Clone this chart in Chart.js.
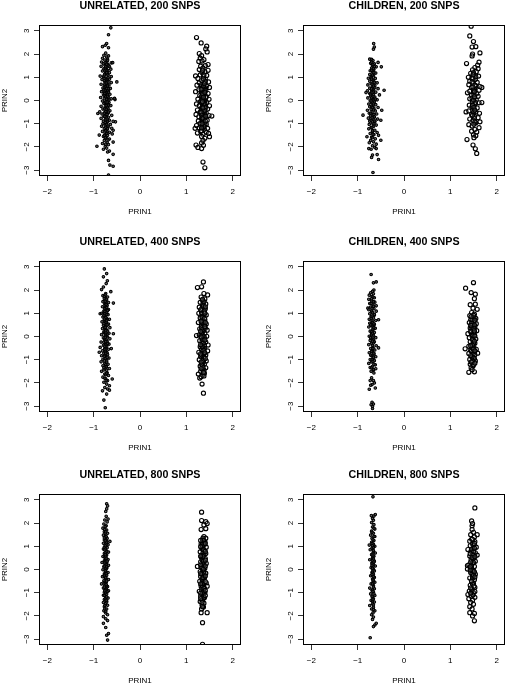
<!DOCTYPE html>
<html><head><meta charset="utf-8">
<script src="https://cdn.jsdelivr.net/npm/chart.js@4"></script>
<style>html,body{margin:0;padding:0;background:#fff;overflow:hidden;width:506px;height:685px}canvas{position:absolute;display:block}</style>
</head><body>
<script>
const panelTitles=["UNRELATED, 200 SNPS","CHILDREN, 200 SNPS","UNRELATED, 400 SNPS","CHILDREN, 400 SNPS","UNRELATED, 800 SNPS","CHILDREN, 800 SNPS"];
const xTicks=[-2,-1,0,1,2];
const yTicks=[-3,-2,-1,0,1,2,3];
const xLabel="PRIN1",yLabel="PRIN2";

const unrelated200Small=[[-.63,3.13],[-.68,2.83],[-.72,2.45],[-.75,2.38],[-.81,2.32],[-.68,2.27],[-.5,.8],[-.54,.04],[-.55,.09],[-.93,-1.97],[-.58,-1.79],[-.58,-2.32],[-.68,-2.58],[-.65,-2.78],[-.58,-2.83],[-.68,-3.21],[-.88,-1.49],[-.53,-.92],[-.58,-1.28],[-.91,-.56],
[-.74,2.04],[-.78,1.95],[-.68,1.92],[-.72,1.87],[-.81,1.82],[-.7,1.78],[-.62,1.62],[-.76,1.74],[-.83,1.66],[-.72,1.64],[-.59,1.63],[-.79,1.58],[-.69,1.55],[-.75,1.5],[-.84,1.47],[-.66,1.46],[-.72,1.42],[-.63,1.35],[-.78,1.36],[-.7,1.3],[-.81,1.27],[-.74,1.22],[-.66,1.2],[-.86,1.05],[-.76,1.14],[-.69,1.09],[-.62,1.03],[-.79,1.01],[-.73,.96],[-.66,.92],[-.82,.9],[-.7,.86],[-.76,.81],[-.62,.77],[-.72,.74],[-.84,.7],[-.67,.67],[-.77,.63],[-.71,.58],[-.8,.54],[-.64,.52],[-.74,.47],[-.68,.42],[-.83,.38],[-.76,.36],[-.71,.31],[-.65,.27],[-.79,.24],[-.73,.19],[-.85,.13],[-.68,.13],[-.77,.08],[-.71,.03],[-.62,.07],[-.81,-.02],[-.74,-.06],[-.67,-.09],[-.78,-.13],[-.7,-.18],[-.63,-.22],[-.84,-.25],[-.75,-.27],[-.69,-.33],[-.8,-.37],[-.72,-.41],[-.65,-.44],[-.87,-.49],[-.76,-.52],[-.69,-.55],[-.82,-.58],[-.73,-.63],[-.61,-.64],[-.78,-.69],[-.68,-.72],[-.84,-.77],[-.74,-.8],[-.66,-.85],[-.79,-.89],[-.58,-.9],[-.71,-.94],[-.8,-1],[-.64,-1.03],[-.75,-1.06],[-.83,-1.11],[-.69,-1.14],[-.61,-1.2],[-.77,-1.2],[-.72,-1.27],[-.81,-1.33],[-.66,-1.37],[-.75,-1.43],[-.6,-1.44],[-.7,-1.5],[-.79,-1.55],[-.73,-1.62],[-.66,-1.66],[-.77,-1.72],[-.71,-1.8],[-.81,-1.85],[-.68,-1.9],[-.75,-1.97],[-.72,-2.05],[-.79,-2.1],[-.66,-2.18],[-.7,-2.22]];
const unrelated200SmallCore=[[-.71,.92],[-.75,.55],[-.7,1.14],[-.73,.12],[-.69,-.02],[-.76,.7],[-.72,.33],[-.78,1.03],[-.7,-.28],[-.74,-.47],[-.68,.5],[-.73,1.31],[-.77,.23],[-.71,.66],[-.75,-.11],[-.69,.8],[-.73,-.72],[-.7,.41],[-.76,-.36],[-.72,1.2],[-.67,.02],[-.74,.88],[-.71,-.6],[-.78,.46],[-.7,-.88],[-.74,.16],[-.69,1.5],[-.75,1.37],[-.72,-1.02],[-.77,-.55],[-.7,.27],[-.73,.6],[-.68,-.2],[-.75,1.62],[-.71,-.8],[-.74,-1.15],[-.69,.98],[-.77,1.1],[-.72,.05],[-.7,1.72],[-.75,-.95],[-.73,.75],[-.68,-.5],[-.71,-1.35],[-.76,.3],[-.72,-.15],[-.74,1.45],[-.7,.18],[-.73,-.38],[-.77,.86],[-.69,-1.1],[-.72,1.56],[-.75,.45],[-.71,-.07],[-.74,-1.3],[-.7,.62],[-.76,-.68],[-.72,.52],[-.68,.35],[-.73,-.22],[-.7,-1.22],[-.75,-1.6],[-.72,-1.42],[-.77,-1.5],[-.69,-1.7],[-.74,-1.88]];
const unrelated200Large=[[1.22,2.71],[1.32,2.48],[1.44,2.34],[1.42,2.22],[1.45,2.09],[1.28,2.02],[1.36,-2.65],[1.4,-2.9],[1.21,-1.92],[1.25,-2.02],[1.33,-2.07],[1.55,-.67],[1.5,-1.56],[1.19,-1.2],
[1.33,1.93],[1.3,1.82],[1.38,1.76],[1.27,1.68],[1.34,1.7],[1.47,1.55],[1.41,1.5],[1.31,1.48],[1.36,1.4],[1.28,1.33],[1.47,1.3],[1.4,1.24],[1.34,1.2],[1.2,1.06],[1.3,1.1],[1.44,1.08],[1.37,1.02],[1.25,.95],[1.41,.92],[1.33,.86],[1.48,.8],[1.28,.76],[1.38,.72],[1.23,.66],[1.44,.62],[1.33,.6],[1.5,.56],[1.37,.5],[1.27,.46],[1.42,.43],[1.2,.38],[1.33,.36],[1.47,.3],[1.38,.26],[1.29,.21],[1.43,.17],[1.35,.12],[1.25,.06],[1.49,.05],[1.39,.01],[1.31,-.04],[1.44,-.09],[1.36,-.14],[1.22,-.15],[1.28,-.22],[1.5,-.23],[1.4,-.28],[1.33,-.33],[1.46,-.37],[1.24,-.41],[1.37,-.44],[1.3,-.5],[1.43,-.55],[1.21,-.6],[1.35,-.6],[1.49,-.65],[1.27,-.7],[1.4,-.75],[1.33,-.79],[1.45,-.85],[1.26,-.88],[1.37,-.92],[1.3,-.98],[1.43,-1.03],[1.22,-1.08],[1.35,-1.1],[1.28,-1.18],[1.46,-1.2],[1.39,-1.24],[1.31,-1.33],[1.24,-1.4],[1.43,-1.37],[1.36,-1.45],[1.48,-1.42],[1.33,-1.55],[1.4,-1.63],[1.36,-1.72],[1.33,-1.83],[1.37,-1.93]];
const unrelated200LargeCore=[[1.36,-.2],[1.39,-.55],[1.33,.18],[1.37,-.7],[1.35,.4],[1.4,-.02],[1.34,-.4],[1.38,.07],[1.36,-.95],[1.33,-.62],[1.41,-.32],[1.37,.3],[1.35,-.85],[1.39,.56],[1.34,.02],[1.37,-1.05],[1.33,.68],[1.4,-.12],[1.36,.23],[1.38,-.48],[1.35,-.27],[1.39,.44],[1.34,-.74],[1.41,.82],[1.36,-1.17],[1.38,1.1],[1.33,-1.3],[1.4,-1.03],[1.37,.93],[1.35,1.3],[1.38,-.15],[1.32,-.5],[1.42,.12],[1.36,-.78],[1.34,.5],[1.4,-.42],[1.37,.62],[1.33,-.1],[1.41,-.88],[1.35,.28],[1.38,-1.12],[1.32,.48],[1.39,.72],[1.36,-.32],[1.34,-1],[1.42,-.68],[1.37,.14],[1.33,-1.18],[1.4,.34],[1.35,-.05]];

const children200Small=[[-.655,2.45],[-.64,2.3],[-.66,2.21],[-.67,-3.1],[-.885,-.63],[-.43,.44],[-.49,1.45],[-.56,1.64],[-.55,-2.54],[-.7,-2.45],[-.58,-2.33],[-.76,-2.07],[-.5,-1.71],[-.8,-1.56],[-.68,-2.35],[-.82,.34],[-.48,-.42],[-.5,-.85],
[-.74,1.78],[-.7,1.77],[-.67,1.72],[-.64,1.58],[-.72,1.6],[-.68,1.5],[-.6,1.45],[-.7,1.4],[-.65,1.33],[-.73,1.28],[-.68,1.22],[-.61,1.18],[-.74,1.12],[-.66,1.07],[-.71,1.02],[-.77,.96],[-.62,.95],[-.69,.9],[-.74,.83],[-.65,.8],[-.58,.76],[-.71,.72],[-.78,.67],[-.63,.64],[-.68,.59],[-.74,.53],[-.56,.51],[-.66,.48],[-.79,.42],[-.7,.39],[-.61,.36],[-.74,.3],[-.66,.26],[-.53,.24],[-.72,.19],[-.63,.15],[-.78,.11],[-.68,.07],[-.58,.03],[-.73,-.01],[-.64,-.05],[-.7,-.1],[-.76,-.15],[-.61,-.18],[-.67,-.22],[-.74,-.27],[-.56,-.3],[-.65,-.33],[-.71,-.38],[-.79,-.42],[-.62,-.45],[-.69,-.5],[-.75,-.55],[-.59,-.58],[-.67,-.62],[-.72,-.67],[-.64,-.72],[-.77,-.76],[-.57,-.8],[-.69,-.83],[-.74,-.89],[-.63,-.92],[-.68,-.98],[-.75,-1.03],[-.6,-1.06],[-.66,-1.12],[-.71,-1.17],[-.76,-1.22],[-.63,-1.28],[-.68,-1.33],[-.58,-1.38],[-.73,-1.42],[-.65,-1.47],[-.55,-1.5],[-.7,-1.58],[-.62,-1.65],[-.72,-1.72],[-.66,-1.78],[-.75,-1.82],[-.6,-1.88],[-.68,-1.95],[-.63,-2.02],[-.71,-2.1],[-.6,-2.07]];
const children200SmallCore=[[-.67,.45],[-.7,1.65],[-.65,.02],[-.69,.7],[-.66,-.4],[-.72,.28],[-.68,1.1],[-.64,-.7],[-.7,-.25],[-.67,.88],[-.66,.36],[-.71,-.85],[-.63,.55],[-.68,-.08],[-.7,1.3],[-.65,-1],[-.67,.18],[-.72,-.55],[-.64,1.45],[-.69,-1.15],[-.66,.62],[-.68,-.3],[-.7,.12],[-.63,-.88],[-.67,1.55],[-.71,.98],[-.65,-.6],[-.69,.33],[-.66,-.15],[-.68,-1.3],[-.7,.5],[-.64,.78],[-.67,-1.45],[-.71,-.02],[-.65,1.2],[-.69,-.75],[-.66,1.38],[-.68,-1.6],[-.62,.06],[-.7,.92]];
const children200Large=[[1.45,3.2],[1.42,2.78],[1.5,2.54],[1.55,2.32],[1.47,2.3],[1.64,2.05],[1.48,2],[1.47,1.92],[1.35,1.59],[1.62,1.65],[1.36,-1.68],[1.49,-1.92],[1.54,-2.08],[1.57,-2.28],[1.34,-.49],[1.68,-.09],[1.68,.56],[1.37,.33],
[1.59,1.52],[1.53,1.42],[1.6,1.37],[1.48,1.32],[1.56,1.24],[1.44,1.17],[1.51,1.12],[1.61,1.05],[1.39,1],[1.47,.98],[1.54,.9],[1.42,.83],[1.58,.78],[1.49,.73],[1.4,.68],[1.55,.62],[1.64,.6],[1.46,.56],[1.52,.49],[1.62,.44],[1.42,.4],[1.5,.35],[1.57,.29],[1.46,.23],[1.6,.18],[1.52,.12],[1.42,.07],[1.56,.02],[1.48,-.04],[1.62,-.1],[1.53,-.15],[1.41,-.2],[1.47,-.27],[1.58,-.32],[1.51,-.38],[1.4,-.45],[1.55,-.5],[1.63,-.55],[1.46,-.6],[1.52,-.68],[1.6,-.74],[1.42,-.8],[1.49,-.86],[1.64,-.92],[1.55,-.96],[1.4,-1.04],[1.47,-1.1],[1.62,-1.17],[1.53,-1.25],[1.46,-1.32],[1.57,-1.36],[1.5,-1.48],[1.55,-1.52],[1.51,-1.6]];
const children200LargeCore=[[1.51,.25],[1.48,-.2],[1.53,.66],[1.5,-.52],[1.49,.95],[1.54,-.08],[1.5,.45],[1.52,-.75],[1.47,.1],[1.55,1.02],[1.51,-.3],[1.49,.58],[1.53,-.92],[1.5,1.2],[1.52,.38],[1.48,-.64],[1.5,.02],[1.53,-.42],[1.47,.8],[1.51,-1.02],[1.49,1.1],[1.52,.16]];

const unrelated400Small=[[-.77,2.91],[-.72,2.71],[-.79,2.57],[-.705,2.4],[-.73,2.28],[-.79,2.13],[-.83,2.02],[-.63,1.93],[-.575,1.44],[-.575,.12],[-.81,-2.34],[-.72,-2.48],[-.78,-2.74],[-.75,-3.07],[-.6,-1.83],[-.66,-2.31],[-.88,-.68],[-.86,.98],[-.62,-.52],
[-.74,1.85],[-.8,1.76],[-.7,1.7],[-.77,1.64],[-.72,1.57],[-.8,1.5],[-.68,1.46],[-.76,1.4],[-.71,1.33],[-.81,1.28],[-.74,1.22],[-.68,1.16],[-.78,1.1],[-.72,1.05],[-.83,1],[-.69,.94],[-.76,.9],[-.8,.84],[-.72,.78],[-.66,.74],[-.77,.7],[-.82,.63],[-.73,.58],[-.68,.53],[-.79,.48],[-.74,.42],[-.65,.38],[-.81,.34],[-.75,.28],[-.7,.24],[-.78,.18],[-.67,.14],[-.83,.08],[-.74,.04],[-.7,-.02],[-.79,-.06],[-.65,-.1],[-.76,-.15],[-.71,-.2],[-.84,-.24],[-.74,-.29],[-.67,-.33],[-.79,-.38],[-.72,-.43],[-.86,-.47],[-.76,-.52],[-.68,-.55],[-.81,-.62],[-.73,-.66],[-.78,-.72],[-.7,-.78],[-.83,-.83],[-.75,-.88],[-.67,-.93],[-.8,-.98],[-.72,-1.04],[-.84,-1.09],[-.76,-1.15],[-.69,-1.2],[-.8,-1.26],[-.73,-1.32],[-.66,-1.38],[-.78,-1.44],[-.83,-1.5],[-.71,-1.56],[-.76,-1.62],[-.68,-1.68],[-.8,-1.75],[-.74,-1.82],[-.7,-1.9],[-.78,-1.97],[-.72,-2.05],[-.66,-2.12],[-.76,-2.2],[-.7,-2.26]];
const unrelated400SmallCore=[[-.75,.65],[-.73,1.6],[-.77,.2],[-.74,-.5],[-.72,.95],[-.76,1.2],[-.71,.1],[-.75,-.8],[-.73,.45],[-.78,-.25],[-.74,1.45],[-.71,.72],[-.76,-.1],[-.73,.3],[-.77,1.02],[-.75,-.62],[-.72,-1.1],[-.74,.82],[-.78,.55],[-.73,-.35],[-.75,1.33],[-.71,-.7],[-.76,.38],[-.74,-1.22],[-.72,.02],[-.77,1.72],[-.75,-.95],[-.73,.6],[-.7,1.12],[-.76,-.42],[-.74,.16],[-.72,-1.45],[-.78,.9],[-.75,1.52],[-.73,-.15],[-.77,-1.05],[-.71,.5],[-.75,.05],[-.74,-1.65],[-.76,-.55],[-.72,1.25],[-.74,-.22],[-.77,.75],[-.73,-1.3],[-.75,1.8],[-.71,-.9],[-.76,-1.8],[-.74,.25],[-.72,-1.58],[-.77,-.85],[-.75,.4],[-.73,1.38],[-.7,-.3],[-.76,.98],[-.74,-.72],[-.72,.68],[-.78,-1.35],[-.75,-.03],[-.73,-1.9],[-.76,1.08]];
const unrelated400Large=[[1.37,2.35],[1.33,2.14],[1.24,2.11],[1.38,1.85],[1.46,1.79],[1.37,-2.44],[1.22,.04],[1.26,-1.62],[1.34,-2.05],[1.29,-1.79],
[1.32,1.7],[1.4,1.62],[1.35,1.55],[1.3,1.47],[1.42,1.4],[1.36,1.33],[1.28,1.26],[1.41,1.2],[1.33,1.12],[1.38,1.05],[1.27,1],[1.43,.93],[1.34,.87],[1.3,.8],[1.4,.73],[1.36,.67],[1.26,.6],[1.43,.54],[1.33,.47],[1.38,.4],[1.29,.33],[1.45,.27],[1.35,.2],[1.4,.13],[1.28,.07],[1.44,.01],[1.33,-.05],[1.37,-.12],[1.29,-.18],[1.42,-.24],[1.35,-.3],[1.47,-.37],[1.3,-.44],[1.39,-.5],[1.33,-.57],[1.46,-.62],[1.27,-.68],[1.37,-.75],[1.42,-.8],[1.31,-.87],[1.37,-.94],[1.28,-1],[1.43,-1.05],[1.34,-1.13],[1.39,-1.2],[1.3,-1.28],[1.42,-1.35],[1.35,-1.42],[1.31,-1.5],[1.39,-1.58],[1.35,-1.66],[1.32,-1.73],[1.38,-1.7]];
const unrelated400LargeCore=[[1.36,.55],[1.34,-.2],[1.38,.9],[1.35,-.65],[1.37,.25],[1.33,1.02],[1.39,-.38],[1.36,1.4],[1.34,.1],[1.38,-.88],[1.35,.72],[1.37,-1.08],[1.33,.38],[1.39,-.05],[1.36,-.5],[1.34,1.22],[1.38,.62],[1.35,-1.25],[1.37,-.28],[1.33,-.8],[1.39,1.1],[1.36,.02],[1.34,.82],[1.38,-1.45],[1.35,.3],[1.37,-.72],[1.33,.15],[1.39,.48],[1.36,-1.02],[1.34,-.42],[1.38,1.5],[1.35,-.12],[1.37,1.3],[1.33,-1.2],[1.39,.78],[1.36,-1.35],[1.34,.6],[1.38,-.6],[1.35,1.6],[1.37,-1.55],[1.41,.35],[1.31,-.35],[1.4,1],[1.32,.66],[1.41,-.95],[1.31,.22],[1.4,-.15],[1.32,-1.1],[1.41,.6],[1.31,1.15],[1.4,-.7],[1.32,-.02],[1.41,1.28],[1.31,-.75],[1.4,.42],[1.32,-1.38]];

const children400Small=[[-.71,2.67],[-.6,2.35],[-.66,2.31],[-.75,-2.27],[-.62,-2.22],[-.69,-2.83],[-.66,-2.91],[-.71,-2.94],[-.68,-3.02],[-.68,-3.1],[-.55,.72],[-.55,-.49],[-.73,-1.9],[-.66,-1.9],[-.7,-1.78],[-.64,-2],[-.69,-2.07],[-.72,-2.1],[-.78,1.22],
[-.65,2],[-.68,1.95],[-.72,1.88],[-.66,1.84],[-.75,1.78],[-.69,1.72],[-.64,1.67],[-.76,1.6],[-.7,1.54],[-.63,1.48],[-.74,1.42],[-.67,1.36],[-.6,1.32],[-.72,1.27],[-.65,1.2],[-.76,1.15],[-.6,1.09],[-.69,1.05],[-.74,.98],[-.64,.92],[-.71,.86],[-.66,.8],[-.75,.74],[-.61,.69],[-.69,.63],[-.74,.57],[-.64,.52],[-.7,.46],[-.76,.41],[-.62,.35],[-.67,.29],[-.73,.23],[-.64,.17],[-.7,.11],[-.66,.05],[-.75,.01],[-.61,-.05],[-.69,-.11],[-.73,-.17],[-.64,-.23],[-.7,-.29],[-.76,-.35],[-.6,-.4],[-.67,-.46],[-.72,-.52],[-.63,-.58],[-.69,-.64],[-.75,-.7],[-.65,-.76],[-.71,-.82],[-.61,-.87],[-.67,-.93],[-.73,-.99],[-.64,-1.04],[-.7,-1.1],[-.76,-1.16],[-.62,-1.22],[-.68,-1.28],[-.73,-1.34],[-.61,-1.39],[-.66,-1.45],[-.71,-1.5],[-.65,-1.57]];
const children400SmallCore=[[-.68,.6],[-.66,-.15],[-.7,1.1],[-.67,.32],[-.65,-.72],[-.71,.78],[-.68,-.38],[-.66,1.5],[-.7,.08],[-.64,.95],[-.69,-1],[-.67,.44],[-.72,-.05],[-.66,1.3],[-.68,-.6],[-.7,.2],[-.65,-1.2],[-.67,1.7],[-.69,.7],[-.72,-.8],[-.66,-.28],[-.68,1.02],[-.7,-1.35],[-.65,.38],[-.67,-.52],[-.71,1.42],[-.68,.14],[-.66,-.9],[-.69,.88],[-.7,1.62],[-.67,-1.08],[-.65,.55],[-.68,-.2],[-.72,.5],[-.66,-1.42],[-.69,1.2],[-.67,-.02],[-.7,-.65]];
const children400Large=[[1.5,2.32],[1.33,2.08],[1.45,1.89],[1.54,1.82],[1.52,1.63],[1.43,1.37],[1.54,1.39],[1.58,1.17],[1.4,-1.54],[1.52,-1.52],[1.32,-.53],[1.59,-.72],
[1.49,1.22],[1.46,1.03],[1.52,.96],[1.42,.9],[1.49,.84],[1.55,.78],[1.44,.72],[1.51,.66],[1.41,.6],[1.56,.55],[1.47,.49],[1.53,.42],[1.43,.37],[1.49,.3],[1.57,.25],[1.45,.18],[1.38,.12],[1.52,.07],[1.47,.01],[1.41,-.05],[1.55,-.11],[1.49,-.17],[1.43,-.23],[1.53,-.29],[1.46,-.36],[1.4,-.42],[1.51,-.48],[1.56,-.55],[1.44,-.6],[1.49,-.67],[1.4,-.73],[1.53,-.79],[1.46,-.86],[1.5,-.93],[1.42,-.99],[1.54,-1.05],[1.47,-1.12],[1.43,-1.2],[1.49,-1.27],[1.45,-1.35],[1.47,-1.43]];
const children400LargeCore=[[1.48,.5],[1.5,-.3],[1.47,.1],[1.51,.82],[1.46,-.62],[1.49,.28],[1.52,-.95],[1.48,-.12],[1.5,.62],[1.47,-.48],[1.51,.16],[1.49,-.78],[1.46,.4],[1.5,.92],[1.48,-1.05],[1.52,-.2],[1.47,.72],[1.5,-1.22],[1.49,.04],[1.48,-.38],[1.51,.34],[1.47,-.88],[1.46,.56],[1.5,-.55],[1.44,.22],[1.53,.7],[1.44,-.4],[1.53,-.62],[1.45,.85],[1.52,.24],[1.44,-.82],[1.53,.02],[1.45,-1.1],[1.52,.5],[1.44,.48],[1.53,-1.15]];

const unrelated800Small=[[-.72,2.83],[-.7,2.74],[-.72,2.61],[-.74,2.5],[-.73,2.29],[-.65,1.21],[-.7,-3.04],[-.72,-2.83],[-.68,-2.76],[-.79,-2.32],[-.74,-2.5],[-.69,2.17],
[-.76,2.13],[-.71,2.05],[-.78,1.96],[-.73,1.88],[-.8,1.78],[-.72,1.7],[-.77,1.63],[-.7,1.56],[-.79,1.48],[-.74,1.41],[-.71,1.34],[-.77,1.27],[-.72,1.2],[-.79,1.13],[-.69,1.07],[-.75,1],[-.71,.94],[-.79,.88],[-.73,.81],[-.68,.75],[-.77,.69],[-.72,.62],[-.8,.56],[-.74,.49],[-.69,.43],[-.77,.37],[-.72,.3],[-.82,.3],[-.75,.23],[-.68,.18],[-.78,.12],[-.72,.05],[-.8,-.01],[-.74,-.07],[-.69,-.13],[-.77,-.19],[-.72,-.25],[-.81,-.31],[-.75,-.37],[-.68,-.43],[-.78,-.49],[-.73,-.55],[-.83,-.62],[-.76,-.68],[-.7,-.74],[-.79,-.8],[-.73,-.86],[-.68,-.92],[-.77,-.98],[-.72,-1.05],[-.79,-1.11],[-.74,-1.17],[-.69,-1.23],[-.77,-1.29],[-.72,-1.36],[-.79,-1.42],[-.74,-1.48],[-.7,-1.54],[-.77,-1.6],[-.72,-1.7],[-.78,-1.78],[-.74,-1.87],[-.7,-1.95],[-.79,-2.03],[-.74,-2.12],[-.7,-2.2]];
const unrelated800SmallCore=[[-.75,.4],[-.73,1.1],[-.76,-.22],[-.74,.68],[-.72,-.7],[-.77,.15],[-.75,1.55],[-.73,-.4],[-.75,.9],[-.74,-1],[-.76,.52],[-.72,.08],[-.74,1.3],[-.77,-.55],[-.73,.26],[-.75,-1.25],[-.72,.77],[-.76,1.72],[-.74,-.1],[-.73,-.82],[-.77,.96],[-.75,.33],[-.72,-1.4],[-.74,.6],[-.76,-.32],[-.73,1.42],[-.75,-.6],[-.74,.02],[-.77,-1.12],[-.72,1.18],[-.75,.72],[-.73,-.18],[-.76,-1.55],[-.74,.44],[-.71,-.95],[-.75,1.02],[-.73,.2],[-.77,-.76],[-.74,1.62],[-.72,-.5],[-.76,.84],[-.75,-.05],[-.73,-1.32],[-.74,.56],[-.77,-.28],[-.75,1.24],[-.72,.12],[-.76,-1.7],[-.74,-.88],[-.73,.48],[-.75,1.85],[-.76,.28],[-.72,-1.18],[-.74,-.35],[-.77,1.36],[-.73,-.65],[-.75,.64],[-.74,-1.8],[-.71,.36],[-.76,-.92]];
const unrelated800Large=[[1.33,2.47],[1.33,2.11],[1.42,2.06],[1.45,1.98],[1.42,1.76],[1.32,1.72],[1.35,-2.29],[1.35,-3.22],[1.45,-1.86],[1.32,-1.86],[1.24,.13],[1.38,1.92],
[1.38,1.42],[1.42,1.35],[1.35,1.28],[1.4,1.2],[1.32,1.1],[1.38,1.03],[1.43,.96],[1.34,.89],[1.39,.82],[1.3,.76],[1.42,.69],[1.36,.61],[1.32,.54],[1.41,.47],[1.36,.4],[1.31,.33],[1.43,.26],[1.37,.19],[1.32,.12],[1.4,.05],[1.35,-.02],[1.3,-.09],[1.42,-.16],[1.36,-.23],[1.31,-.3],[1.39,-.37],[1.35,-.44],[1.29,-.51],[1.43,-.58],[1.37,-.65],[1.32,-.72],[1.45,-.72],[1.39,-.8],[1.33,-.87],[1.28,-.94],[1.4,-1],[1.35,-1.07],[1.31,-1.15],[1.39,-1.22],[1.34,-1.3],[1.3,-1.38],[1.38,-1.45],[1.34,-1.53],[1.37,-1.62],[1.33,-1.7]];
const unrelated800LargeCore=[[1.36,.72],[1.37,-.1],[1.35,1.15],[1.38,.3],[1.36,-.55],[1.34,.95],[1.37,-.92],[1.35,.5],[1.38,-.3],[1.36,1.35],[1.34,.08],[1.37,-1.12],[1.35,-.7],[1.38,.62],[1.36,.22],[1.34,-.42],[1.37,.85],[1.35,-1.32],[1.38,-.15],[1.36,-1],[1.34,.42],[1.37,1.25],[1.35,-.6],[1.38,-.82],[1.36,.55],[1.34,-.2],[1.37,.02],[1.35,1.02],[1.38,-1.2],[1.36,-.35],[1.34,-1.42],[1.37,.36],[1.35,-1.6],[1.38,1.1],[1.41,.78],[1.31,.98],[1.41,-.28],[1.31,-.62],[1.41,.15],[1.31,-1.02],[1.41,-1.12],[1.31,.58],[1.41,1.12],[1.31,-.18],[1.41,-.52],[1.31,1.25],[1.41,.4],[1.31,-1.25],[1.41,-.9],[1.31,.2]];

const children800Small=[[-.67,3.13],[-.73,-2.94],[-.62,2.37],[-.705,2.32],[-.6,-2.32],[-.63,-2.39],[-.66,-2.46],[-.65,2.3],
[-.68,2.2],[-.66,2.12],[-.7,2.02],[-.65,1.93],[-.68,1.83],[-.63,1.74],[-.7,1.65],[-.66,1.56],[-.72,1.48],[-.63,1.42],[-.69,1.34],[-.65,1.25],[-.7,1.17],[-.66,1.09],[-.75,1.05],[-.63,1],[-.69,.92],[-.73,.85],[-.66,.78],[-.62,.71],[-.7,.64],[-.65,.57],[-.68,.5],[-.74,.42],[-.64,.36],[-.69,.29],[-.66,.22],[-.62,.15],[-.71,.08],[-.66,.01],[-.64,-.06],[-.69,-.13],[-.66,-.2],[-.72,-.27],[-.64,-.34],[-.68,-.41],[-.66,-.48],[-.63,-.55],[-.71,-.62],[-.66,-.69],[-.74,-.8],[-.64,-.83],[-.69,-.9],[-.66,-.97],[-.72,-1.05],[-.63,-1.12],[-.68,-1.19],[-.66,-1.26],[-.71,-1.33],[-.64,-1.4],[-.68,-1.47],[-.74,-1.55],[-.66,-1.63],[-.7,-1.7],[-.63,-1.78],[-.67,-1.87],[-.7,-1.95],[-.66,-2.05],[-.68,-2.15]];
const children800SmallCore=[[-.67,.55],[-.68,-.1],[-.66,.95],[-.67,-.55],[-.69,.25],[-.65,1.42],[-.68,-.88],[-.67,.7],[-.66,-.3],[-.69,1.12],[-.67,.12],[-.65,-1.05],[-.68,.4],[-.66,-.75],[-.69,1.6],[-.67,-.02],[-.68,-1.35],[-.66,.82],[-.67,-.45],[-.65,.32],[-.69,-1.15],[-.67,1.28],[-.68,.05],[-.66,-1.52],[-.67,.62],[-.69,-.22],[-.65,1.78],[-.68,-.62],[-.67,-1.28],[-.66,.45],[-.68,1.02],[-.67,-.95],[-.69,.18],[-.66,-1.72]];
const children800Large=[[1.53,2.65],[1.46,2.09],[1.47,1.88],[1.52,-1.89],[1.52,-2.21],[1.48,-2],[1.42,-1.86],[1.58,1.5],[1.37,.17],[1.48,1.98],
[1.47,1.72],[1.5,1.6],[1.44,1.5],[1.52,1.4],[1.46,1.3],[1.42,1.22],[1.53,1.2],[1.48,1.1],[1.43,1.02],[1.56,.96],[1.49,.9],[1.38,.86],[1.45,.8],[1.54,.72],[1.48,.65],[1.42,.58],[1.58,.62],[1.5,.5],[1.45,.42],[1.54,.35],[1.48,.27],[1.4,.2],[1.52,.13],[1.46,.05],[1.37,.02],[1.5,-.05],[1.44,-.13],[1.54,-.2],[1.48,-.28],[1.42,-.37],[1.52,-.44],[1.46,-.52],[1.5,-.6],[1.43,-.68],[1.53,-.77],[1.47,-.85],[1.41,-.93],[1.5,-1],[1.38,-1.08],[1.45,-1.15],[1.53,-1.2],[1.4,-1.26],[1.48,-1.32],[1.44,-1.42],[1.5,-1.5],[1.42,-1.6],[1.47,-1.7]];
const children800LargeCore=[[1.49,.45],[1.47,-.15],[1.5,.78],[1.48,-.62],[1.46,.18],[1.51,1.05],[1.48,-.38],[1.49,.62],[1.47,-.92],[1.5,.3],[1.48,-.06],[1.46,.88],[1.51,-.72],[1.49,-1.1],[1.47,.52],[1.5,-.25],[1.48,1.3],[1.46,-.5],[1.44,.32],[1.53,.55],[1.43,.68],[1.52,-.1],[1.44,-.8],[1.53,-.32],[1.43,-.02],[1.52,.92],[1.44,-1.02],[1.53,-.95],[1.43,.12],[1.52,1.12]];

const smallSeries=[unrelated200Small.concat(unrelated200SmallCore),children200Small.concat(children200SmallCore),unrelated400Small.concat(unrelated400SmallCore),children400Small.concat(children400SmallCore),unrelated800Small.concat(unrelated800SmallCore),children800Small.concat(children800SmallCore)];
const largeSeries=[unrelated200Large.concat(unrelated200LargeCore),children200Large.concat(children200LargeCore),unrelated400Large.concat(unrelated400LargeCore),children400Large.concat(children400LargeCore),unrelated800Large.concat(unrelated800LargeCore),children800Large.concat(children800LargeCore)];

const font="'Liberation Sans', Arial, sans-serif";
const ink="#000";
const frame={id:'frame',afterDatasetsDraw(c){const a=c.chartArea,g=c.ctx;g.save();g.strokeStyle=ink;g.lineWidth=1;g.strokeRect(a.left,a.top,a.right-a.left,a.bottom-a.top);g.restore();}};
const lefts=[0,264],tops=[0,236,469];
const toPts=a=>a.map(p=>({x:p[0],y:p[1]}));
const fmt=v=>String(v).replace('-','\u2212');

panelTitles.forEach((t,i)=>{
  const cv=document.createElement('canvas');
  cv.width=242;cv.height=216;
  cv.style.width='242px';cv.style.height='216px';
  cv.style.left=lefts[i%2]+'px';cv.style.top=tops[Math.floor(i/2)]+'px';
  document.body.appendChild(cv);
  new Chart(cv,{type:'scatter',plugins:[frame],data:{datasets:[
    {data:toPts(smallSeries[i]),pointRadius:1.3,pointBorderWidth:1.05,borderColor:ink,backgroundColor:'rgba(60,60,60,.75)'},
    {data:toPts(largeSeries[i]),pointRadius:2.05,pointBorderWidth:1.15,borderColor:ink,backgroundColor:'rgba(255,255,255,.15)'}
  ]},options:{responsive:false,animation:false,devicePixelRatio:1,
    layout:{autoPadding:false,padding:{left:0,right:1.5,top:0,bottom:0}},
    plugins:{legend:{display:false},tooltip:{enabled:false},
      title:{display:true,text:t,fullSize:false,color:ink,font:{family:font,size:10.7,weight:'bold',lineHeight:1},padding:{top:.6,bottom:14.2}}},
    scales:{
      x:{type:'linear',min:-2.17,max:2.17,afterFit(s){s.height=40.5;s.paddingLeft=0;s.paddingRight=0;},afterBuildTicks(s){s.ticks=xTicks.map(v=>({value:v}));},
        grid:{drawOnChartArea:false,drawTicks:true,tickLength:5.5,color:ink,lineWidth:.8},border:{display:false},
        ticks:{color:ink,padding:5.5,maxRotation:0,autoSkip:false,includeBounds:false,font:{family:font,size:8},callback:fmt},
        title:{display:true,text:xLabel,color:ink,font:{family:font,size:8,lineHeight:1.1},padding:{top:0,bottom:0}}},
      y:{type:'linear',min:-3.23,max:3.23,afterFit(s){s.width=39.5;s.paddingTop=0;s.paddingBottom=0;},afterBuildTicks(s){s.ticks=yTicks.map(v=>({value:v}));},
        grid:{drawOnChartArea:false,drawTicks:true,tickLength:5.5,color:ink,lineWidth:.8},border:{display:false},
        ticks:{color:ink,padding:3,minRotation:90,maxRotation:90,crossAlign:'center',autoSkip:false,includeBounds:false,font:{family:font,size:8},callback:fmt},
        title:{display:true,text:yLabel,color:ink,font:{family:font,size:8,lineHeight:1.1},padding:{top:0,bottom:0}}}
    }}});
});
</script>
</body></html>
